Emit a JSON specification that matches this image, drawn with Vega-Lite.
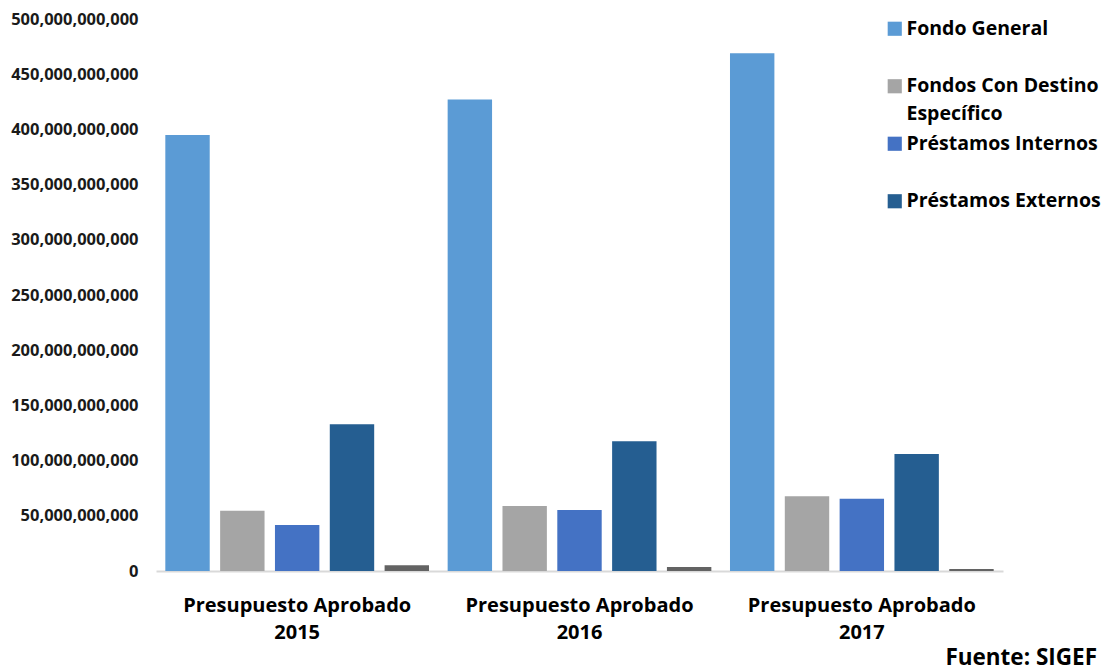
{
  "$schema": "https://vega.github.io/schema/vega-lite/v6.json",
  "autosize": "none",
  "width": 847,
  "height": 552,
  "padding": {"left": 156, "top": 19, "right": 106, "bottom": 100},
  "background": "white",
  "title": {
    "text": "Fuente: SIGEF",
    "orient": "bottom",
    "anchor": "end",
    "frame": "group",
    "dx": 94,
    "offset": 5,
    "font": "Open Sans",
    "fontSize": 22.5,
    "fontWeight": "bold",
    "color": "#000000"
  },
  "data": {
    "values": [
      {"anio": "2015", "serie": "Fondo General", "orden": 1, "monto": 395000000000},
      {"anio": "2015", "serie": "Fondos Con Destino Específico", "orden": 2, "monto": 54500000000},
      {"anio": "2015", "serie": "Préstamos Internos", "orden": 3, "monto": 41700000000},
      {"anio": "2015", "serie": "Préstamos Externos", "orden": 4, "monto": 133000000000},
      {"anio": "2015", "serie": "Otros", "orden": 5, "monto": 5200000000},
      {"anio": "2016", "serie": "Fondo General", "orden": 1, "monto": 427000000000},
      {"anio": "2016", "serie": "Fondos Con Destino Específico", "orden": 2, "monto": 58900000000},
      {"anio": "2016", "serie": "Préstamos Internos", "orden": 3, "monto": 55300000000},
      {"anio": "2016", "serie": "Préstamos Externos", "orden": 4, "monto": 117500000000},
      {"anio": "2016", "serie": "Otros", "orden": 5, "monto": 3600000000},
      {"anio": "2017", "serie": "Fondo General", "orden": 1, "monto": 469000000000},
      {"anio": "2017", "serie": "Fondos Con Destino Específico", "orden": 2, "monto": 67700000000},
      {"anio": "2017", "serie": "Préstamos Internos", "orden": 3, "monto": 65500000000},
      {"anio": "2017", "serie": "Préstamos Externos", "orden": 4, "monto": 106000000000},
      {"anio": "2017", "serie": "Otros", "orden": 5, "monto": 1800000000}
    ]
  },
  "mark": {"type": "bar"},
  "encoding": {
    "x": {
      "field": "anio",
      "type": "nominal",
      "scale": {"paddingInner": 0, "paddingOuter": 0},
      "axis": {
        "title": null,
        "labelAngle": 0,
        "ticks": false,
        "labelPadding": 24,
        "labelExpr": "['Presupuesto Aprobado', datum.label]",
        "labelLineHeight": 27,
        "labelLimit": 400,
        "labelFont": "Open Sans",
        "labelFontSize": 20,
        "labelFontWeight": "bold",
        "labelColor": "#000000",
        "domainColor": "#D9D9D9",
        "domainWidth": 2
      }
    },
    "xOffset": {
      "field": "orden",
      "type": "ordinal",
      "scale": {"paddingInner": 0.19, "paddingOuter": 0.17}
    },
    "y": {
      "field": "monto",
      "type": "quantitative",
      "scale": {"domain": [0, 500000000000], "nice": false},
      "axis": {
        "title": null,
        "values": [0, 50000000000, 100000000000, 150000000000, 200000000000, 250000000000, 300000000000, 350000000000, 400000000000, 450000000000, 500000000000],
        "format": ",d",
        "grid": false,
        "domain": false,
        "ticks": false,
        "labelPadding": 18,
        "labelFont": "Open Sans",
        "labelFontSize": 16.5,
        "labelFontWeight": "bold",
        "labelColor": "#1a1a1a"
      }
    },
    "color": {
      "field": "serie",
      "type": "nominal",
      "scale": {
        "domain": ["Fondo General", "Fondos Con Destino Específico", "Préstamos Internos", "Préstamos Externos", "Otros"],
        "range": ["#5B9BD5", "#A5A5A5", "#4472C4", "#255E91", "#636363"]
      },
      "legend": {
        "title": null,
        "orient": "none",
        "legendX": 729,
        "legendY": 0,
        "padding": 0,
        "values": ["Fondo General", "Fondos Con Destino Específico", "Préstamos Internos", "Préstamos Externos"],
        "labelExpr": "datum.label == 'Fondos Con Destino Específico' ? ['Fondos Con Destino', 'Específico'] : datum.label",
        "symbolType": "square",
        "symbolSize": 200,
        "symbolStrokeWidth": 0,
        "labelOffset": 2,
        "labelFont": "Open Sans",
        "labelFontSize": 19.5,
        "labelFontWeight": "bold",
        "labelColor": "#000000",
        "labelLimit": 300,
        "gridAlign": "all",
        "rowPadding": 8.5,
        "encode": {"labels": {"update": {"lineHeight": {"value": 28}}}}
      }
    }
  },
  "config": {
    "view": {"stroke": null}
  }
}
